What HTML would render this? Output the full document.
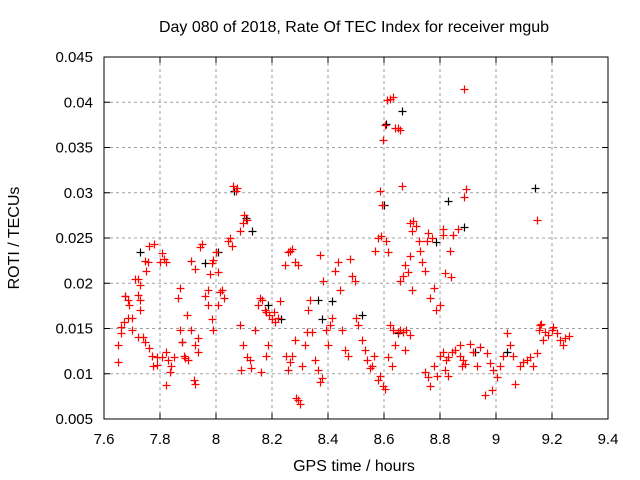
<!DOCTYPE html>
<html><head><meta charset="utf-8"><style>
body{margin:0;background:#fff;}
svg{display:block;font-family:"Liberation Sans",sans-serif;}
</style></head><body>
<svg id="chart" width="640" height="480">
<rect width="640" height="480" fill="#fff"/>
<text x="354" y="32" font-size="16" text-anchor="middle">Day 080 of 2018, Rate Of TEC Index for receiver mgub</text>
<text x="354" y="471" font-size="16" text-anchor="middle">GPS time / hours</text>
<text x="19" y="238" font-size="16" text-anchor="middle" transform="rotate(-90 19 238)">ROTI / TECUs</text>
<g id="grid"></g>
<g id="ticks"></g>
<g id="pts"></g>
<rect x="104" y="57" width="504" height="362" fill="none" stroke="#000" stroke-width="1"/>
</svg>
<script>
const xTicks=[7.6,7.8,8.0,8.2,8.4,8.6,8.8,9.0,9.2,9.4];
const xTickLabels=["7.6","7.8","8","8.2","8.4","8.6","8.8","9","9.2","9.4"];
const yTicks=[0.005,0.01,0.015,0.02,0.025,0.03,0.035,0.04,0.045];
const yTickLabels=["0.005","0.01","0.015","0.02","0.025","0.03","0.035","0.04","0.045"];
const redT=[7.65,7.65,7.66,7.66,7.67,7.675,7.685,7.69,7.685,7.70,7.70,7.71,7.72,7.73,7.72,7.73,7.73,7.72,7.74,7.746,7.75,7.757,7.76,7.746,7.76,7.77,7.775,7.79,7.79,7.78,7.80,7.807,7.814,7.82,7.807,7.82,7.83,7.836,7.82,7.84,7.85,7.864,7.87,7.87,7.88,7.886,7.89,7.90,7.897,7.91,7.92,7.925,7.91,7.925,7.925,7.936,7.943,7.95,7.936,7.96,7.97,7.97,7.98,7.986,7.99,7.99,7.986,8.0,8.007,8.007,8.014,8.02,8.03,8.043,8.05,8.057,8.06,8.07,8.075,8.086,8.096,8.10,8.11,8.086,8.096,8.09,8.11,8.12,8.125,8.14,8.15,8.157,8.164,8.175,8.18,8.16,8.18,8.186,8.19,8.2,8.207,8.21,8.22,8.23,8.246,8.257,8.264,8.271,8.282,8.293,8.25,8.257,8.264,8.271,8.282,8.286,8.293,8.3,8.307,8.318,8.325,8.329,8.336,8.343,8.354,8.364,8.371,8.379,8.371,8.382,8.393,8.4,8.407,8.414,8.425,8.436,8.443,8.45,8.461,8.471,8.479,8.486,8.496,8.5,8.507,8.521,8.532,8.539,8.55,8.557,8.564,8.568,8.579,8.589,8.607,8.614,8.621,8.632,8.614,8.629,8.579,8.586,8.596,8.604,8.586,8.593,8.596,8.604,8.611,8.621,8.632,8.639,8.65,8.657,8.664,8.675,8.639,8.65,8.657,8.668,8.679,8.693,8.7,8.657,8.668,8.675,8.686,8.693,8.7,8.693,8.704,8.714,8.725,8.729,8.736,8.746,8.754,8.757,8.771,8.779,8.764,8.786,8.8,8.811,8.811,8.818,8.829,8.746,8.757,8.764,8.779,8.789,8.8,8.811,8.821,8.829,8.843,8.854,8.864,8.871,8.879,8.886,8.893,8.886,9.146,9.154,9.161,9.157,9.168,9.175,9.186,9.2,9.204,9.218,9.229,9.239,9.246,9.261,9.039,9.05,9.061,9.025,9.014,8.989,9.004,8.986,8.961,8.968,8.979,9.068,9.086,9.096,9.111,9.121,9.132,9.146,8.943,8.932,8.918,8.907,8.889,8.882,8.871,8.836,8.818,8.839,8.846,8.861,8.8];
const redV=[0.0113,0.0132,0.0152,0.0145,0.0157,0.0186,0.0181,0.0176,0.0162,0.0148,0.0162,0.0205,0.0205,0.0198,0.0187,0.0181,0.017,0.0141,0.0141,0.0225,0.0213,0.0223,0.0241,0.0135,0.0128,0.012,0.0109,0.0118,0.011,0.0243,0.0223,0.0233,0.0227,0.0223,0.0118,0.0124,0.0115,0.0102,0.0088,0.0109,0.0118,0.0184,0.0195,0.0148,0.0135,0.012,0.0117,0.0115,0.0165,0.0148,0.0093,0.0089,0.0225,0.0216,0.0132,0.0124,0.024,0.0243,0.014,0.0186,0.0193,0.0176,0.021,0.0222,0.0226,0.0148,0.016,0.0234,0.0212,0.0176,0.019,0.0193,0.0184,0.0247,0.025,0.0241,0.0308,0.0302,0.0305,0.0258,0.0267,0.0275,0.027,0.0154,0.0132,0.0104,0.0118,0.0115,0.0106,0.0148,0.0176,0.0184,0.0181,0.017,0.0168,0.0102,0.012,0.0132,0.0165,0.016,0.0168,0.0157,0.0162,0.018,0.022,0.0234,0.0236,0.0238,0.0223,0.022,0.012,0.0104,0.0113,0.012,0.0137,0.0073,0.0071,0.0067,0.0109,0.0132,0.0146,0.017,0.0181,0.0146,0.0115,0.0104,0.0091,0.0095,0.0231,0.0203,0.0148,0.0132,0.0154,0.0162,0.0214,0.0223,0.0193,0.0148,0.0126,0.012,0.0227,0.0208,0.0203,0.0162,0.0154,0.0137,0.0126,0.0115,0.0106,0.0109,0.012,0.0236,0.025,0.0252,0.0247,0.0234,0.0154,0.0148,0.0118,0.0109,0.0093,0.0098,0.0087,0.0083,0.0302,0.0286,0.0358,0.0375,0.0402,0.0404,0.0406,0.0371,0.0371,0.0369,0.0307,0.0126,0.0132,0.0146,0.0148,0.0146,0.0148,0.0143,0.0193,0.0203,0.0208,0.022,0.0212,0.023,0.0258,0.0267,0.0269,0.0263,0.0247,0.0236,0.0223,0.0214,0.0247,0.0256,0.025,0.0195,0.0184,0.017,0.0176,0.0253,0.026,0.0104,0.0098,0.0102,0.0096,0.0086,0.0109,0.0098,0.012,0.0124,0.0115,0.0118,0.0124,0.0126,0.026,0.0132,0.0109,0.0415,0.0304,0.0295,0.027,0.0148,0.0155,0.0154,0.0137,0.0146,0.0143,0.0148,0.0152,0.0145,0.0137,0.0132,0.014,0.0142,0.0145,0.0132,0.012,0.012,0.0109,0.0104,0.0096,0.0082,0.0077,0.0123,0.0112,0.0089,0.0109,0.0113,0.0115,0.0118,0.0109,0.0123,0.013,0.0109,0.0124,0.0133,0.0111,0.0115,0.012,0.0236,0.0211,0.0207,0.0253];
const blackT=[7.675,7.73,7.88,7.96,8.007,8.064,8.107,8.129,8.186,8.364,8.379,8.6,8.607,8.664,8.786,8.829,8.886,9.039,9.14,8.925,8.65,8.521,8.414,8.232];
const blackV=[0.0186,0.0235,0.0135,0.0222,0.0234,0.0302,0.0272,0.0258,0.0176,0.0181,0.016,0.0287,0.0376,0.039,0.0246,0.0291,0.0262,0.0124,0.0305,0.0124,0.0145,0.0165,0.018,0.016];
const NS="http://www.w3.org/2000/svg";
const X0=104,X1=608,Y0=419,Y1=57;
function xs(t){return X0+(t-7.6)/(9.4-7.6)*(X1-X0);}
function ys(v){return Y0-(v-0.005)/(0.045-0.005)*(Y0-Y1);}
function mk(tag,attrs,parent){const e=document.createElementNS(NS,tag);for(const k in attrs)e.setAttribute(k,attrs[k]);parent.appendChild(e);return e;}
const grid=document.getElementById('grid'),ticks=document.getElementById('ticks'),pts=document.getElementById('pts');
xTicks.forEach((t,i)=>{const x=xs(t);
 if(i>0&&i<xTicks.length-1){const g=mk('line',{x1:x,x2:x,y1:Y1,y2:Y0,stroke:'#a0a0a0','stroke-dasharray':'3,3'},grid);
 
 }
 mk('line',{x1:x,x2:x,y1:Y0,y2:Y0-6,stroke:'#000'},ticks);mk('line',{x1:x,x2:x,y1:Y1,y2:Y1+6,stroke:'#000'},ticks);
 const l=mk('text',{x:x,y:444,'font-size':15,'text-anchor':'middle'},ticks);l.textContent=xTickLabels[i];
 
 
});
yTicks.forEach((v,i)=>{const y=ys(v);
 if(i>0&&i<yTicks.length-1){const g=mk('line',{x1:X0,x2:X1,y1:y,y2:y,stroke:'#a0a0a0','stroke-dasharray':'3,3'},grid);
 
 }
 mk('line',{x1:X0,x2:X0+6,y1:y,y2:y,stroke:'#000'},ticks);mk('line',{x1:X1,x2:X1-6,y1:y,y2:y,stroke:'#000'},ticks);
 const l=mk('text',{x:93,y:y+5,'font-size':15,'text-anchor':'end'},ticks);l.textContent=yTickLabels[i];
 
 
});
function plus(t,v,color,name){const x=Math.round(xs(t))+0.5,y=Math.round(ys(v))+0.5;
 const p=mk('path',{d:`M${x-4} ${y}H${x+4}M${x} ${y-4}V${y+4}`,stroke:color,'stroke-width':1.2,fill:'none'},pts);
 
 }
blackT.forEach((t,i)=>plus(t,blackV[i],'#000','black-point'));
redT.forEach((t,i)=>plus(t,redV[i],'#ff0000','red-point'));
</script>
</body></html>
